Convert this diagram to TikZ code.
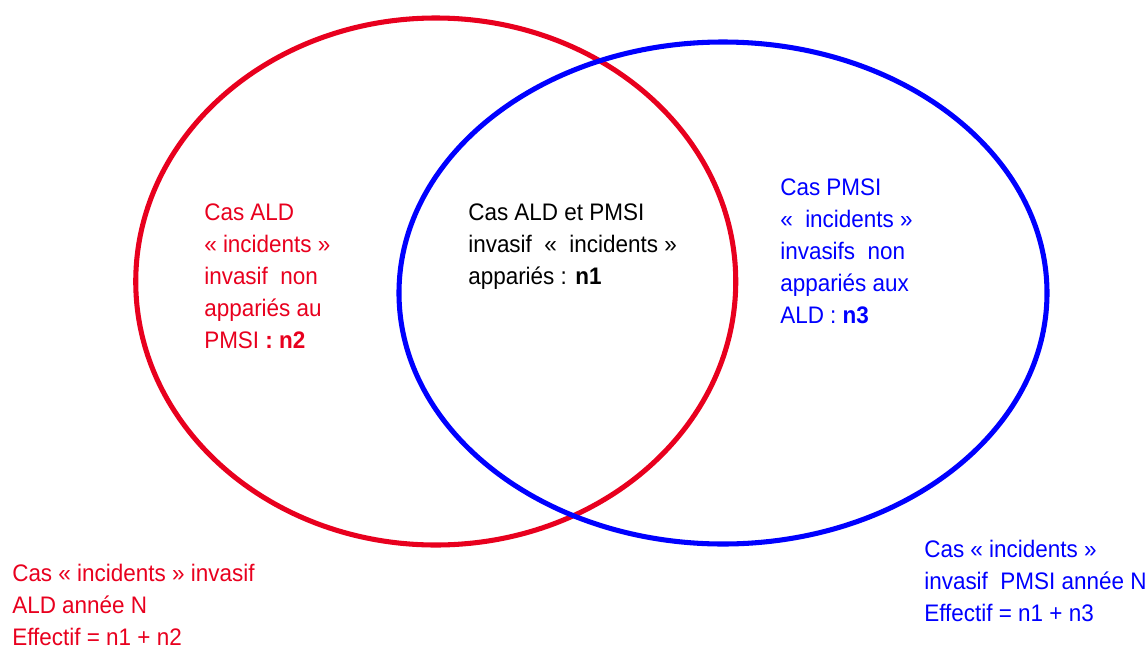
\documentclass[tikz,border=0pt]{standalone}
\usepackage{fontspec}
\setmainfont{Liberation Sans}[FakeStretch=0.94]
\definecolor{aldred}{RGB}{232,0,30}
\definecolor{pmsiblue}{RGB}{0,0,255}

\begin{document}
\begin{tikzpicture}[x=0.025cm, y=-0.025cm,
    caslabel/.style={anchor=north west, inner sep=0pt, align=left,
      font=\fontsize{17}{22.6}\selectfont},
    setline/.style={line width=3.6pt}]
  \useasboundingbox (0,0) rectangle (1146,646);
  % the two sets
  \draw[aldred, setline] (435.75,281.5) ellipse [x radius=300, y radius=263.5];
  \draw[pmsiblue, setline] (723,293) ellipse [x radius=324, y radius=251];
  % texts inside
  \node[caslabel, text=aldred] (ald) at (204,204)
    {Cas ALD\\\guillemotleft{} incidents \guillemotright\\invasif\ \ non\\appari\'es au\\PMSI \textbf{: n2}};
  \node[caslabel] (both) at (468,204)
    {Cas ALD et PMSI\\invasif\ \ \guillemotleft\ \ incidents \guillemotright\\appari\'es : \textbf{n1}};
  \node[caslabel, text=pmsiblue] (pmsi) at (780,179)
    {Cas PMSI\\\guillemotleft\ \ incidents \guillemotright\\invasifs\ \ non\\appari\'es aux\\ALD : \textbf{n3}};
  % totals
  \node[caslabel, text=aldred] (aldtotal) at (12,564)
    {Cas \guillemotleft{} incidents \guillemotright{} invasif\\ALD ann\'ee N\\Effectif = n1 + n2};
  \node[caslabel, text=pmsiblue] (pmsitotal) at (924,540)
    {Cas \guillemotleft{} incidents \guillemotright\\invasif\ \ PMSI ann\'ee N\\Effectif = n1 + n3};
\end{tikzpicture}
\end{document}
